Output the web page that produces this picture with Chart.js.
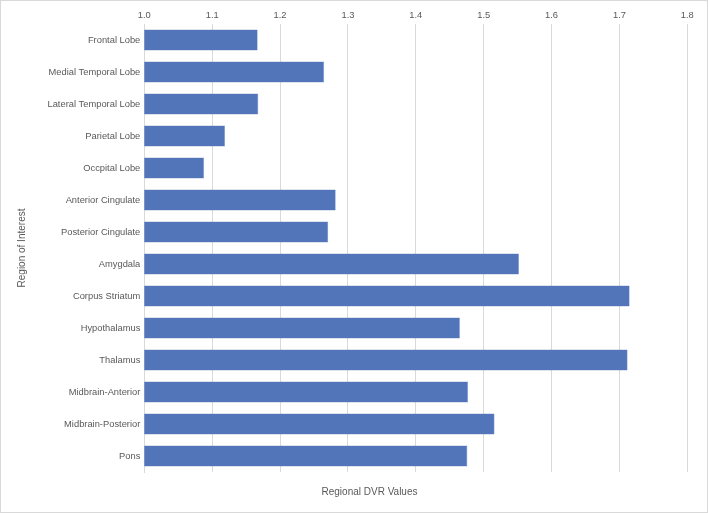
<!DOCTYPE html>
<html>
<head>
<meta charset="utf-8">
<script src="https://cdn.jsdelivr.net/npm/chart.js@4/dist/chart.umd.min.js"></script>
<style>
  html, body { margin: 0; padding: 0; background: #ffffff; }
  #wrap { position: relative; width: 708px; height: 513px; box-sizing: border-box; border: 1px solid #d9d9d9; }
  canvas { display: block; }
</style>
</head>
<body>
<div id="wrap"><canvas id="c" width="706" height="511"></canvas></div>
<script>
const categories = [
  'Frontal Lobe', 'Medial Temporal Lobe', 'Lateral Temporal Lobe', 'Parietal Lobe',
  'Occpital Lobe', 'Anterior Cingulate', 'Posterior Cingulate', 'Amygdala',
  'Corpus Striatum', 'Hypothalamus', 'Thalamus', 'Midbrain-Anterior',
  'Midbrain-Posterior', 'Pons'
];
const dvrValues = [
  1.167, 1.265, 1.168, 1.119,
  1.088, 1.282, 1.271, 1.552,
  1.715, 1.465, 1.712, 1.477,
  1.516, 1.476
];
const xTickLabels = ['1.0', '1.1', '1.2', '1.3', '1.4', '1.5', '1.6', '1.7', '1.8'];
const xAxisTitle = 'Regional DVR Values';
const yAxisTitle = 'Region of Interest';

const FONT = '"Liberation Sans", Arial, sans-serif';
const TXT = '#595959';

const xTitlePlugin = {
  id: 'xTitle',
  afterDraw(chart) {
    const ctx = chart.ctx;
    ctx.save();
    ctx.font = '10px ' + FONT;
    ctx.fillStyle = TXT;
    ctx.textAlign = 'center';
    ctx.textBaseline = 'middle';
    ctx.fillText(xAxisTitle, 368.5, 491);
    ctx.restore();
  }
};

new Chart(document.getElementById('c'), {
  type: 'bar',
  data: {
    labels: categories,
    datasets: [{
      data: dvrValues,
      backgroundColor: '#5275ba',
      borderColor: '#6f8cc6',
      borderWidth: 0.6,
      borderSkipped: false,
      barPercentage: 0.66,
      categoryPercentage: 1.0
    }]
  },
  options: {
    indexAxis: 'y',
    responsive: false,
    animation: false,
    layout: { padding: { top: 0, left: 0, right: 19.7, bottom: 40 } },
    plugins: { legend: { display: false }, tooltip: { enabled: false } },
    scales: {
      x: {
        position: 'top',
        min: 1.0,
        max: 1.8,
        afterFit(s) { s.height = 23; },
        afterBuildTicks(s) {
          s.ticks = xTickLabels.map(t => ({ value: parseFloat(t) }));
        },
        ticks: {
          font: { family: FONT, size: 9.33 },
          color: TXT,
          padding: 3,
          maxRotation: 0,
          callback: (v, i) => xTickLabels[i]
        },
        grid: { color: '#d9d9d9', lineWidth: 1, drawTicks: false },
        border: { display: false }
      },
      y: {
        afterFit(s) { s.width = 143.3; },
        ticks: {
          font: { family: FONT, size: 9.33 },
          color: TXT,
          padding: 4,
          autoSkip: false
        },
        grid: { display: false, drawTicks: false },
        border: { display: true, color: '#d9d9d9', width: 1 },
        title: {
          display: true,
          text: yAxisTitle,
          font: { family: FONT, size: 10 },
          color: TXT,
          padding: { top: 15, bottom: 0 }
        }
      }
    }
  },
  plugins: [xTitlePlugin]
});
</script>
</body>
</html>
